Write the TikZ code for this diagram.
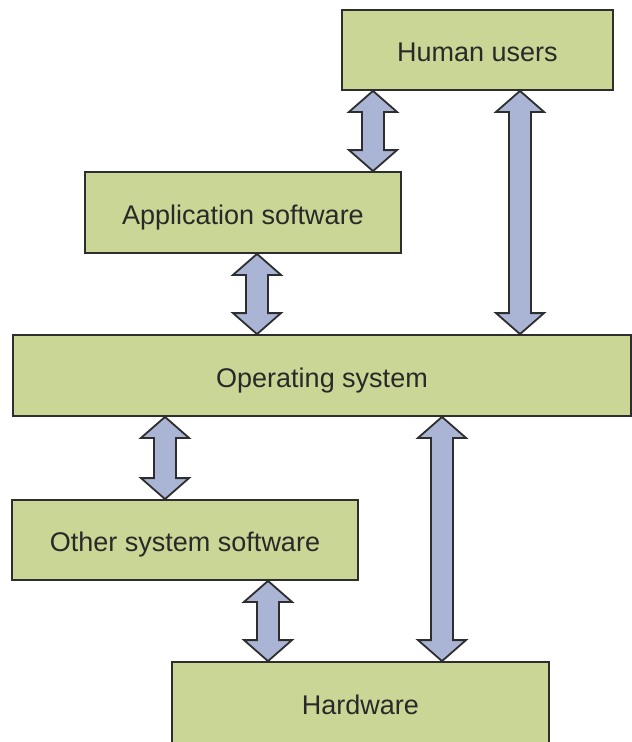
\documentclass[tikz,border=0pt]{standalone}
\usepackage{fontspec}
\setmainfont{Liberation Sans}
\usetikzlibrary{calc}
\definecolor{boxgreen}{HTML}{CAD695}
\definecolor{arrowblue}{HTML}{AAB4D4}
\definecolor{edge}{HTML}{2E2E2E}
\tikzset{
  layer/.style={draw=edge, line width=1.8pt, fill=boxgreen, inner sep=0pt,
    text height=23pt, text depth=0pt,
    font=\fontsize{27}{32}\selectfont, text=edge!90!black},
  dblarrow/.style={draw=edge, line width=1.8pt, fill=arrowblue, line join=miter}
}
% #1 x (pt), #2 upper node, #3 lower node
\newcommand\linkarrow[3]{%
  \path[dblarrow] let \p1=(#2.south), \p2=(#3.north) in
    (#1,\y1) -- (#1+24,\y1-21) -- (#1+11,\y1-21) -- (#1+11,\y2+21) -- (#1+24,\y2+21)
    -- (#1,\y2) -- (#1-24,\y2+21) -- (#1-11,\y2+21) -- (#1-11,\y1-21) -- (#1-24,\y1-21) -- cycle;}
\begin{document}
\begin{tikzpicture}[x=1pt,y=1pt]
\useasboundingbox (0,0) rectangle (632,-742);
\node[layer, minimum width=271pt, minimum height=80pt] (human) at (477.5,-50) {Human users};
\node[layer, minimum width=316pt, minimum height=81pt] (app) at (243,-212.5) {Application software};
\node[layer, minimum width=618pt, minimum height=81pt] (os) at (322,-375.5) {Operating system};
\node[layer, minimum width=346pt, minimum height=80pt] (other) at (185,-540) {Other system software};
\node[layer, minimum width=377pt, minimum height=81pt] (hw) at (360.5,-702.5) {Hardware};
\linkarrow{373}{human}{app}
\linkarrow{520}{human}{os}
\linkarrow{257}{app}{os}
\linkarrow{165}{os}{other}
\linkarrow{442}{os}{hw}
\linkarrow{268}{other}{hw}
\end{tikzpicture}
\end{document}
